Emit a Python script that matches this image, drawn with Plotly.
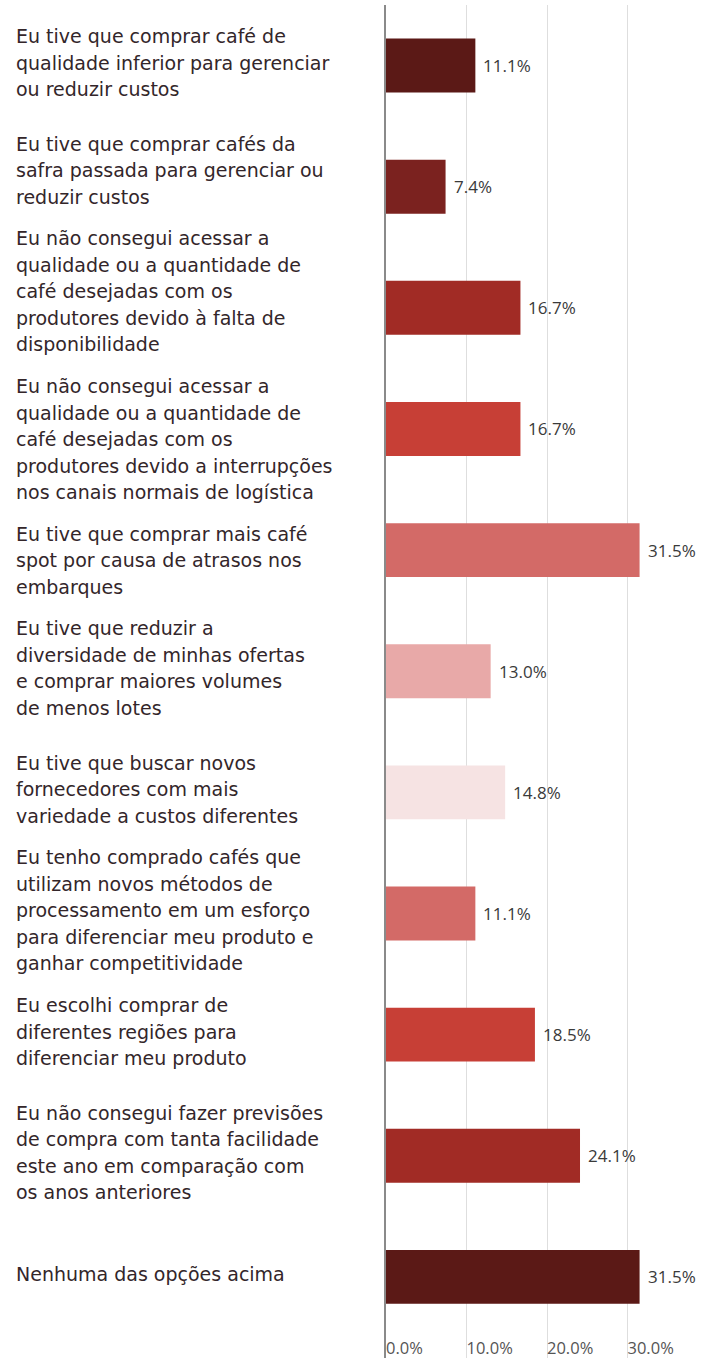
import plotly.graph_objects as go

# Survey responses (pt-BR), top to bottom
categories = [
    "Eu tive que comprar café de<br>qualidade inferior para gerenciar<br>ou reduzir custos",
    "Eu tive que comprar cafés da<br>safra passada para gerenciar ou<br>reduzir custos",
    "Eu não consegui acessar a<br>qualidade ou a quantidade de<br>café desejadas com os<br>produtores devido à falta de<br>disponibilidade",
    "Eu não consegui acessar a<br>qualidade ou a quantidade de<br>café desejadas com os<br>produtores devido a interrupções<br>nos canais normais de logística",
    "Eu tive que comprar mais café<br>spot por causa de atrasos nos<br>embarques",
    "Eu tive que reduzir a<br>diversidade de minhas ofertas<br>e comprar maiores volumes<br>de menos lotes",
    "Eu tive que buscar novos<br>fornecedores com mais<br>variedade a custos diferentes",
    "Eu tenho comprado cafés que<br>utilizam novos métodos de<br>processamento em um esforço<br>para diferenciar meu produto e<br>ganhar competitividade",
    "Eu escolhi comprar de<br>diferentes regiões para<br>diferenciar meu produto",
    "Eu não consegui fazer previsões<br>de compra com tanta facilidade<br>este ano em comparação com<br>os anos anteriores",
    "Nenhuma das opções acima",
]
percentages = [11.1, 7.4, 16.7, 16.7, 31.5, 13.0, 14.8, 11.1, 18.5, 24.1, 31.5]
bar_colors = [
    "#5b1916", "#7b221f", "#a12b25", "#c73f36", "#d36a67", "#e8a9a8",
    "#f6e3e3", "#d36a67", "#c73f36", "#a12b25", "#5b1916",
]
tick_values = [0, 10, 20, 30]
tick_labels = ["0.0%", "10.0%", "20.0%", "30.0%"]

W, H = 710, 1358
ML, MR, MT, MB = 386, 2, 5, 0
Y_RANGE = [10.67, -0.5]
LABEL_FONT = "DejaVu Sans"
NUM_FONT = "Open Sans"
TEXT_COLOR = "#33262a"
LINE_STEP = 26.5      # px between wrapped label lines
BLOCK_GAP = 42        # min px between last line of one label and first of the next

ids = list(range(len(categories)))
plot_w = W - ML - MR
plot_h = H - MT - MB
px_per_row = plot_h / abs(Y_RANGE[0] - Y_RANGE[1])

fig = go.Figure(
    go.Bar(
        x=percentages,
        y=ids,
        orientation="h",
        marker=dict(color=bar_colors, line=dict(width=0)),
        width=0.445,
        hoverinfo="skip",
    )
)

# Place wrapped labels line by line; nudge neighbouring blocks apart when tall
lines = [c.split("<br>") for c in categories]
centers = [i * px_per_row - 3 for i in ids]
for _ in range(20):
    moved = False
    for i in range(len(ids) - 1):
        last_i = centers[i] + (len(lines[i]) - 1) * LINE_STEP / 2
        first_n = centers[i + 1] - (len(lines[i + 1]) - 1) * LINE_STEP / 2
        overlap = BLOCK_GAP - (first_n - last_i)
        if overlap > 0.5:
            centers[i] -= overlap / 2
            centers[i + 1] += overlap / 2
            moved = True
    if not moved:
        break

annotations = []
label_x = -(ML - 14) / plot_w
for i, block in enumerate(lines):
    n = len(block)
    for k, line in enumerate(block):
        y_px = centers[i] + (k - (n - 1) / 2) * LINE_STEP
        annotations.append(dict(
            x=label_x, xref="paper", y=y_px / px_per_row, yref="y",
            text=line, showarrow=False, xanchor="left", yanchor="middle",
            align="left", font=dict(family=LABEL_FONT, size=19, color=TEXT_COLOR),
        ))

for i, val in enumerate(percentages):
    annotations.append(dict(
        x=val, xref="x", y=i, yref="y",
        text=f"{val:.1f}%", showarrow=False, xanchor="left", yanchor="middle",
        xshift=6, font=dict(family=NUM_FONT, size=17, color="#3a3a3a"),
    ))

fig.update_layout(
    width=W, height=H,
    margin=dict(l=ML, r=MR, t=MT, b=MB),
    paper_bgcolor="white", plot_bgcolor="white",
    showlegend=False,
    annotations=annotations,
    xaxis=dict(
        range=[0, 40],
        tickvals=tick_values, ticktext=tick_labels,
        ticklabelposition="inside right",
        ticklabelstandoff=-5,
        tickfont=dict(family=NUM_FONT, size=16.5, color="#555555"),
        showgrid=True, gridcolor="#dedede", gridwidth=1,
        zeroline=False, showline=False, ticks="",
        fixedrange=True,
    ),
    yaxis=dict(
        range=Y_RANGE,
        showticklabels=False, ticks="",
        showgrid=False, zeroline=False,
        showline=True, linecolor="#8a8a8a", linewidth=1.5,
        fixedrange=True,
    ),
)

fig.write_html("out.html")
